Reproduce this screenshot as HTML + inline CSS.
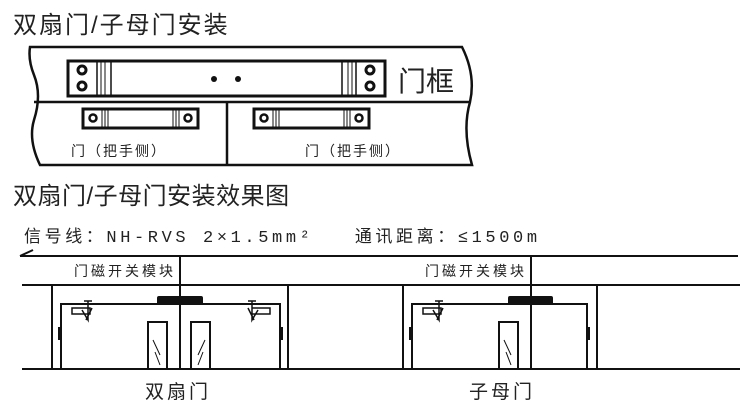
<!DOCTYPE html>
<html><head><meta charset="utf-8"><style>
html,body{margin:0;padding:0;background:#fff}
svg{display:block}
text{font-family:"Liberation Sans","Noto Sans CJK SC",sans-serif;fill:#222}
</style></head><body>
<svg width="740" height="412" viewBox="0 0 740 412" xmlns="http://www.w3.org/2000/svg">
<text x="13" y="33" font-size="24" letter-spacing="2">双扇门/子母门安装</text>
<g fill="none" stroke="#111" stroke-width="2.5">
<path d="M30 47 L462 47 Q476 75 470 102 Q462 130 472 165 L40 165 Q28 140 34 120 Q42 95 34 75 Q28 60 30 47 Z"/>
<line x1="34" y1="102" x2="470" y2="102"/>
<line x1="227" y1="102" x2="227" y2="165"/>
</g>
<g stroke="#111" fill="none">
<rect x="68" y="61" width="317" height="35" stroke-width="3"/>
<line x1="97" y1="62" x2="97" y2="95" stroke-width="1.5"/><line x1="101" y1="62" x2="101" y2="95"/><line x1="105" y1="62" x2="105" y2="95"/><line x1="111" y1="62" x2="111" y2="95" stroke-width="1.5"/>
<line x1="342" y1="62" x2="342" y2="95" stroke-width="1.5"/><line x1="348" y1="62" x2="348" y2="95"/><line x1="352" y1="62" x2="352" y2="95"/><line x1="356" y1="62" x2="356" y2="95" stroke-width="1.5"/>
<circle cx="82" cy="70" r="4" stroke-width="3"/><circle cx="82" cy="86" r="4" stroke-width="3"/>
<circle cx="370" cy="70" r="4" stroke-width="3"/><circle cx="370" cy="86" r="4" stroke-width="3"/>
</g>
<circle cx="214" cy="79" r="3" fill="#111"/><circle cx="238" cy="79" r="3" fill="#111"/>
<text x="398" y="91" font-size="28">门框</text>
<g stroke="#111" fill="none">
<rect x="83" y="109" width="115" height="19" stroke-width="3"/>
<circle cx="93" cy="118" r="3.5" stroke-width="2.5"/><circle cx="188" cy="118" r="3.5" stroke-width="2.5"/>
<line x1="102" y1="110" x2="102" y2="127"/><line x1="105" y1="110" x2="105" y2="127"/><line x1="108" y1="110" x2="108" y2="127"/>
<line x1="173" y1="110" x2="173" y2="127"/><line x1="176" y1="110" x2="176" y2="127"/><line x1="179" y1="110" x2="179" y2="127"/>
<rect x="254" y="109" width="115" height="19" stroke-width="3"/>
<circle cx="264" cy="118" r="3.5" stroke-width="2.5"/><circle cx="359" cy="118" r="3.5" stroke-width="2.5"/>
<line x1="273" y1="110" x2="273" y2="127"/><line x1="276" y1="110" x2="276" y2="127"/><line x1="279" y1="110" x2="279" y2="127"/>
<line x1="344" y1="110" x2="344" y2="127"/><line x1="347" y1="110" x2="347" y2="127"/><line x1="350" y1="110" x2="350" y2="127"/>
</g>
<text x="71" y="156" font-size="14" letter-spacing="2">门（把手侧）</text>
<text x="305" y="156" font-size="14" letter-spacing="2">门（把手侧）</text>

<text x="13" y="204" font-size="24" letter-spacing="0.5">双扇门/子母门安装效果图</text>
<text x="24" y="242" font-size="17" letter-spacing="3.6" style="font-family:'Liberation Mono','Noto Sans CJK SC',monospace">信号线：NH-RVS 2×1.5mm² &#160; 通讯距离：≤1500m</text>

<g stroke="#111" stroke-width="2" fill="none">
<line x1="20" y1="256" x2="738" y2="256"/>
<line x1="20" y1="256" x2="33" y2="250"/>
<line x1="22" y1="285" x2="740" y2="285"/>
<line x1="22" y1="369" x2="740" y2="369"/>
<line x1="180" y1="256" x2="180" y2="369"/>
<line x1="531" y1="256" x2="531" y2="369"/>
<line x1="52" y1="285" x2="52" y2="369"/>
<line x1="288" y1="285" x2="288" y2="369"/>
<line x1="403" y1="285" x2="403" y2="369"/>
<line x1="597" y1="285" x2="597" y2="369"/>
<path d="M61 369 V304 H280 V369"/>
<path d="M412 369 V304 H587 V369"/>
<rect x="148" y="322" width="19" height="47"/>
<rect x="191" y="322" width="19" height="47"/>
<rect x="499" y="322" width="19" height="47"/>
<line x1="153" y1="340" x2="160" y2="355" stroke-width="1"/><line x1="155" y1="352" x2="160" y2="365" stroke-width="1"/>
<line x1="205" y1="340" x2="198" y2="355" stroke-width="1"/><line x1="203" y1="352" x2="198" y2="365" stroke-width="1"/>
<line x1="504" y1="340" x2="511" y2="355" stroke-width="1"/><line x1="506" y1="352" x2="511" y2="365" stroke-width="1"/>
</g>
<g fill="#111">
<rect x="157" y="296" width="46" height="9" rx="2"/>
<rect x="508" y="296" width="45" height="9" rx="2"/>
<rect x="58" y="327" width="4" height="13"/><rect x="279" y="327" width="4" height="13"/>
<rect x="409" y="327" width="4" height="13"/><rect x="586" y="327" width="4" height="13"/>
</g>
<g stroke="#111" stroke-width="1.5" fill="none">
<path d="M72 308 H90 V314 H72 Z M84 301 H92 M88 301 V320 L82 310 M86 320 L92 308"/>
<path d="M270 308 H252 V314 H270 Z M256 301 H248 M252 301 V320 L258 310 M254 320 L248 308"/>
<path d="M423 308 H441 V314 H423 Z M435 301 H443 M439 301 V320 L433 310 M437 320 L443 308"/>
</g>
<text x="176" y="276" font-size="14" text-anchor="end" letter-spacing="3">门磁开关模块</text>
<text x="527" y="276" font-size="14" text-anchor="end" letter-spacing="3">门磁开关模块</text>
<text x="178" y="398" font-size="19" text-anchor="middle" letter-spacing="3">双扇门</text>
<text x="502" y="398" font-size="19" text-anchor="middle" letter-spacing="3">子母门</text>
</svg>
</body></html>
